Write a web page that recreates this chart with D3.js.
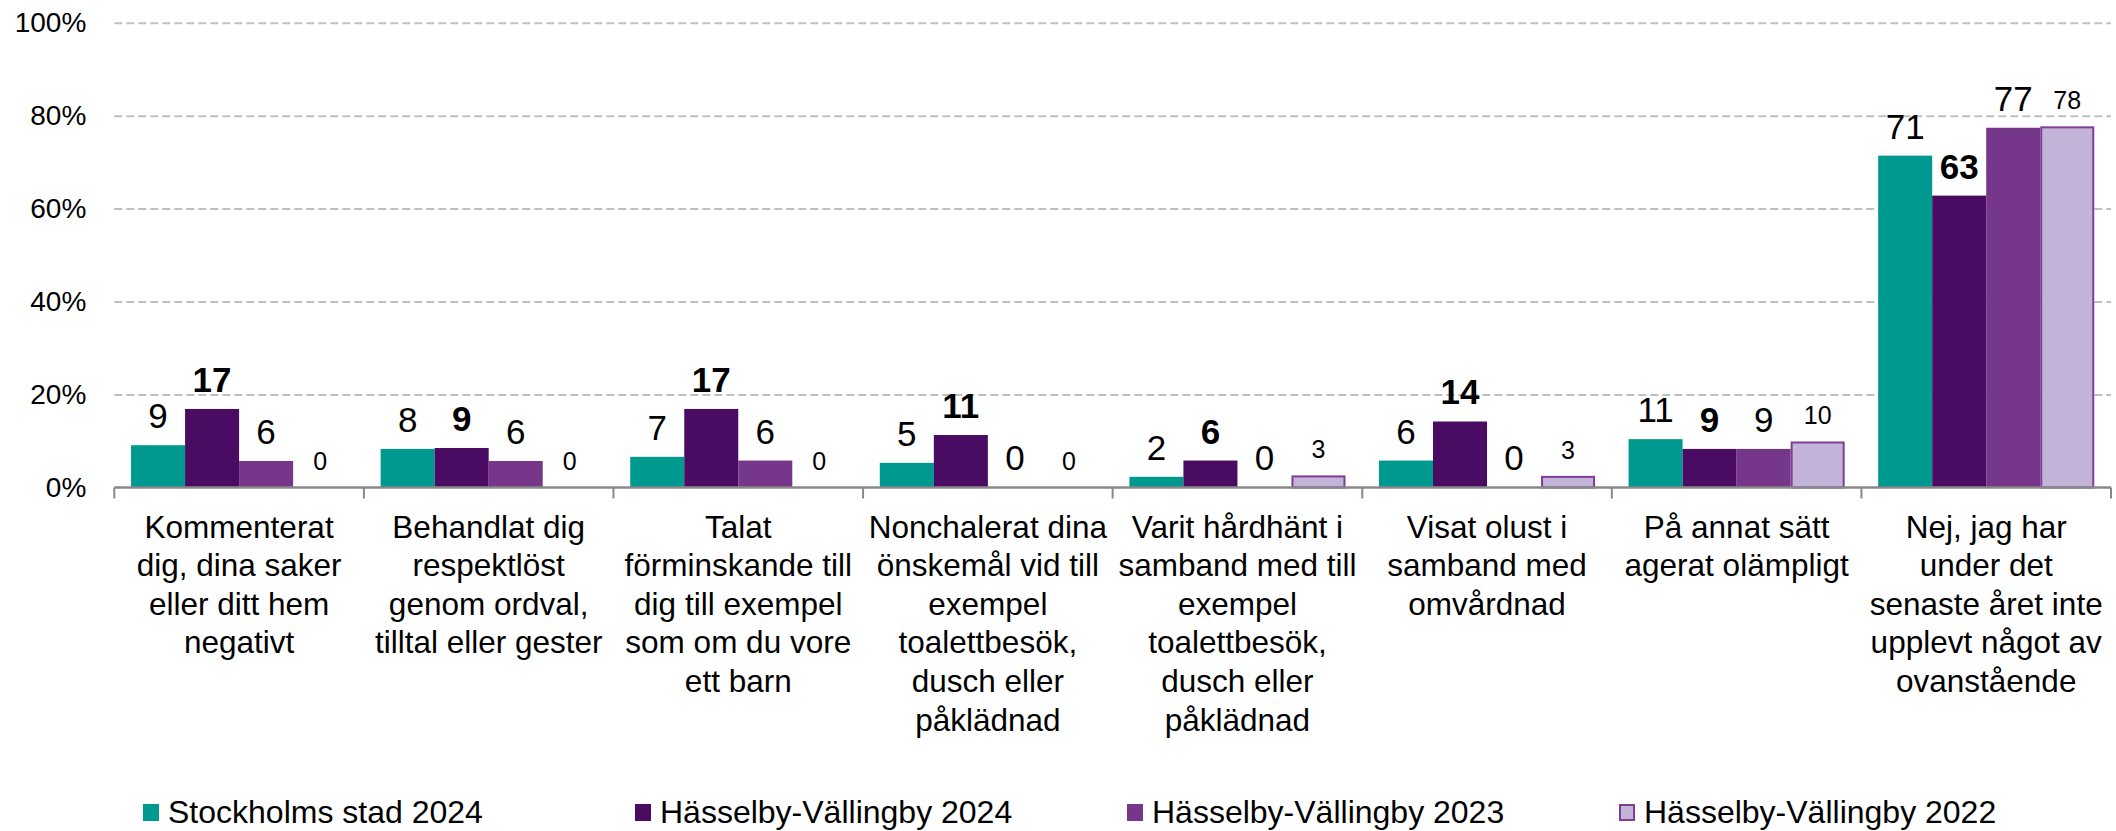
<!DOCTYPE html>
<html lang="sv">
<head>
    <meta charset="UTF-8">
    <title>Upplevelser av bemötande</title>
    <script src="https://d3js.org/d3.v7.min.js"></script>
    <style>
        body { margin: 0; background: #fff; }
        text { font-family: "Liberation Sans", Arial, sans-serif; fill: #000; }
        .grid line { stroke: #c0c0c0; stroke-width: 2px; stroke-dasharray: 8,4; }
        .grid .domain { display: none; }
        .grid text { font-size: 28px; }
        .cat-label { font-size: 31.5px; }
        .legend text { font-size: 32px; }
    </style>
</head>
<body>
    <svg width="2116" height="831"></svg>

    <script>
        // category labels, already broken into lines as in the original
        var categories = [
            ["Kommenterat", "dig, dina saker", "eller ditt hem", "negativt"],
            ["Behandlat dig", "respektlöst", "genom ordval,", "tilltal eller gester"],
            ["Talat", "förminskande till", "dig till exempel", "som om du vore", "ett barn"],
            ["Nonchalerat dina", "önskemål vid till", "exempel", "toalettbesök,", "dusch eller", "påklädnad"],
            ["Varit hårdhänt i", "samband med till", "exempel", "toalettbesök,", "dusch eller", "påklädnad"],
            ["Visat olust i", "samband med", "omvårdnad"],
            ["På annat sätt", "agerat olämpligt"],
            ["Nej, jag har", "under det", "senaste året inte", "upplevt något av", "ovanstående"]
        ];

        var seriesNames = ["Stockholms stad 2024", "Hässelby-Vällingby 2024", "Hässelby-Vällingby 2023", "Hässelby-Vällingby 2022"];

        // bar heights (percent)
        var stockholm2024 = [9.1, 8.3, 6.6, 5.3, 2.3, 5.8, 10.4, 71.4];
        var hv2024        = [16.9, 8.5, 16.9, 11.3, 5.8, 14.2, 8.3, 62.8];
        var hv2023        = [5.7, 5.7, 5.8, 0, 0, 0, 8.3, 77.4];
        var hv2022        = [0, 0, 0, 0, 2.6, 2.5, 9.9, 77.7];

        // printed data labels
        var stockholm2024Labels = [9, 8, 7, 5, 2, 6, 11, 71];
        var hv2024Labels        = [17, 9, 17, 11, 6, 14, 9, 63];
        var hv2023Labels        = [6, 6, 6, 0, 0, 0, 9, 77];
        var hv2022Labels        = [0, 0, 0, 0, 3, 3, 10, 78];

        var yTicks = [0, 20, 40, 60, 80, 100];

        var colors = ["#00998f", "#4a0b63", "#76368a", "#c4b3d8"];
        var labelSize = [35, 35, 35, 25];
        var labelWeight = ["normal", "bold", "normal", "normal"];

        var seriesValues = [stockholm2024, hv2024, hv2023, hv2022];
        var seriesLabels = [stockholm2024Labels, hv2024Labels, hv2023Labels, hv2022Labels];

        var margin = { top: 22.7, right: 5, bottom: 343.5, left: 114.3 },
            width = 2116 - margin.left - margin.right,
            height = 831 - margin.top - margin.bottom;

        var svg = d3.select("svg")
                    .append("g")
                    .attr("transform", "translate(" + margin.left + "," + margin.top + ")");

        var catIdx = d3.range(categories.length);

        var x0 = d3.scaleBand().domain(catIdx).range([0, width]).paddingInner(0).paddingOuter(0);
        var x1 = d3.scaleBand().domain(d3.range(seriesNames.length))
                   .range([0, x0.bandwidth()]).paddingInner(0).paddingOuter(0.31);
        var y = d3.scaleLinear().domain([0, 100]).range([height, 0]);

        // gridlines + y labels
        var grid = svg.append("g")
                      .attr("class", "grid")
                      .call(d3.axisLeft(y)
                              .tickValues(yTicks)
                              .tickSize(-width)
                              .tickPadding(28)
                              .tickFormat(function(d) { return d + "%"; }));
        grid.selectAll(".tick line").filter(function(d) { return d === 0; }).remove();

        // bars
        var bars = [];
        seriesValues.forEach(function(vals, s) {
            vals.forEach(function(v, c) {
                bars.push({ s: s, c: c, v: v, label: seriesLabels[s][c] });
            });
        });

        svg.append("g").selectAll("rect")
           .data(bars.filter(function(d) { return d.v > 0; }))
           .enter()
           .append("rect")
           .attr("x", function(d) { return x0(d.c) + x1(d.s) + (d.s === 3 ? 1 : 0); })
           .attr("y", function(d) { return y(d.v) + (d.s === 3 ? 1 : 0); })
           .attr("width", function(d) { return x1.bandwidth() - (d.s === 3 ? 2 : 0); })
           .attr("height", function(d) { return y(0) - y(d.v) - (d.s === 3 ? 1 : 0); })
           .style("fill", function(d) { return colors[d.s]; })
           .style("stroke", function(d) { return d.s === 3 ? "#7e3e96" : "none"; })
           .style("stroke-width", 2);

        // data labels
        svg.append("g").selectAll("text")
           .data(bars)
           .enter()
           .append("text")
           .attr("x", function(d) { return x0(d.c) + x1(d.s) + x1.bandwidth() / 2; })
           .attr("y", function(d) { return y(d.v) - 17; })
           .attr("text-anchor", "middle")
           .style("font-size", function(d) { return labelSize[d.s] + "px"; })
           .style("font-weight", function(d) { return labelWeight[d.s]; })
           .text(function(d) { return d.label; });

        // x axis line and boundary ticks
        var axis = svg.append("g").attr("transform", "translate(0," + height + ")");
        axis.append("line")
            .attr("x1", 0).attr("x2", width)
            .attr("y1", 0).attr("y2", 0)
            .style("stroke", "#898989").style("stroke-width", 2.5);

        var bounds = catIdx.map(function(i) { return x0(i); }).concat([x0.range()[1]]);
        axis.selectAll(".btick")
            .data(bounds)
            .enter()
            .append("line")
            .attr("x1", function(d) { return d; }).attr("x2", function(d) { return d; })
            .attr("y1", 0).attr("y2", 11)
            .style("stroke", "#898989").style("stroke-width", 2);

        // category labels
        var catLabels = axis.selectAll(".cat-label")
            .data(categories)
            .enter()
            .append("text")
            .attr("class", "cat-label")
            .attr("text-anchor", "middle")
            .attr("transform", function(d, i) {
                return "translate(" + (x0(i) + x0.bandwidth() / 2) + ",50)";
            });
        catLabels.selectAll("tspan")
            .data(function(d) { return d; })
            .enter()
            .append("tspan")
            .attr("x", 0)
            .attr("y", function(d, i) { return i * 38.6; })
            .text(function(d) { return d; });

        // legend
        var legend = d3.select("svg").append("g")
                       .attr("class", "legend")
                       .attr("transform", "translate(143,804)");

        var legendX = d3.scalePoint().domain(d3.range(seriesNames.length)).range([0, 1476]);

        var legendItems = legend.selectAll(".legend-item")
                                .data(seriesNames)
                                .enter()
                                .append("g")
                                .attr("class", "legend-item")
                                .attr("transform", function(d, i) {
                                    return "translate(" + legendX(i) + ",0)";
                                });

        legendItems.append("rect")
                   .attr("x", function(d, i) { return i === 3 ? 1 : 0; })
                   .attr("y", function(d, i) { return i === 3 ? 1 : 0; })
                   .attr("width", function(d, i) { return i === 3 ? 14 : 16; })
                   .attr("height", function(d, i) { return i === 3 ? 15 : 17; })
                   .style("fill", function(d, i) { return colors[i]; })
                   .style("stroke", function(d, i) { return i === 3 ? "#7e3e96" : "none"; })
                   .style("stroke-width", 2);

        legendItems.append("text")
                   .attr("x", 25)
                   .attr("y", 19)
                   .text(function(d) { return d; });
    </script>
</body>
</html>
